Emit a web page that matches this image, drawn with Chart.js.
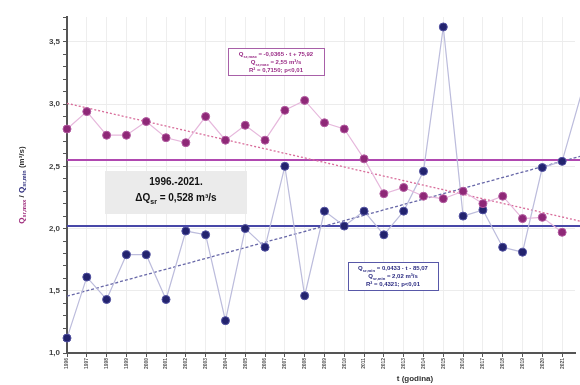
<!DOCTYPE html>
<html>
<head>
<meta charset="utf-8">
<script src="https://cdn.jsdelivr.net/npm/chart.js@4"></script>
<style>
  html, body { margin: 0; padding: 0; background: #fff; overflow: hidden; }
</style>
</head>
<body>
<canvas id="chart1" width="580" height="385"></canvas>
<script>
// godine i protoci (m3/s), ocitano sa slike
const years = [1996, 1997, 1998, 1999, 2000, 2001, 2002, 2003, 2004, 2005, 2006, 2007, 2008,
  2009, 2010, 2011, 2012, 2013, 2014, 2015, 2016, 2017, 2018, 2019, 2020, 2021, 2022];
const qUpper = [2.80, 2.94, 2.75, 2.75, 2.86, 2.73, 2.69, 2.90, 2.71, 2.83, 2.71, 2.95, 3.03,
  2.85, 2.80, 2.56, 2.28, 2.33, 2.26, 2.24, 2.30, 2.20, 2.26, 2.08, 2.09, 1.97, null];
const qLower = [1.12, 1.61, 1.43, 1.79, 1.79, 1.43, 1.98, 1.95, 1.26, 2.00, 1.85, 2.50, 1.46,
  2.14, 2.02, 2.14, 1.95, 2.14, 2.46, 3.62, 2.10, 2.15, 1.85, 1.81, 2.49, 2.54, 3.10];
const yTicks = [1.0, 1.5, 2.0, 2.5, 3.0, 3.5];

const meanUpper = 2.55;
const meanLower = 2.02;
const deltaQ = 0.528;
const trendUpper = { slope: -0.03653, intercept: 75.92, r2: 0.7150 };
const trendLower = { slope: 0.04335, intercept: -85.07, r2: 0.4321 };

const purple = '#8e2877';
const navy = '#23236e';
const FONT = '"Liberation Sans", Arial, sans-serif';

function fmt(v, d) {
  return v.toFixed(d).replace('.', ',');
}

function pts(vals) {
  return years.map((t, i) => ({ x: t, y: vals[i] }));
}

const tStart = years[0];
const tEnd = years[years.length - 1] + 1;

function trendPts(tr) {
  return [tStart, tEnd].map(t => ({ x: t, y: tr.slope * t + tr.intercept }));
}

function flatPts(v) {
  return [{ x: tStart, y: v }, { x: tEnd, y: v }];
}

function setFont(ctx, size, weight) {
  ctx.font = weight + ' ' + size + 'px ' + FONT;
}

function richWidth(ctx, parts, size, weight) {
  let w = 0;
  parts.forEach(p => {
    setFont(ctx, p.sub ? size * 0.7 : size, weight);
    w += ctx.measureText(p.t).width;
  });
  return w;
}

function drawRich(ctx, parts, x, y, size, weight, color) {
  ctx.textAlign = 'left';
  ctx.textBaseline = 'alphabetic';
  parts.forEach(p => {
    setFont(ctx, p.sub ? size * 0.7 : size, weight);
    ctx.fillStyle = p.c || color;
    ctx.fillText(p.t, x, y + (p.sub ? size * 0.25 : 0));
    x += ctx.measureText(p.t).width;
  });
}

function drawRichCentered(ctx, parts, cx, y, size, weight, color) {
  const w = richWidth(ctx, parts, size, weight);
  drawRich(ctx, parts, cx - w / 2, y, size, weight, color);
}

function eqBox(ctx, x, y, w, h, border, color, lines) {
  ctx.fillStyle = '#ffffff';
  ctx.fillRect(x, y, w, h);
  ctx.strokeStyle = border;
  ctx.lineWidth = 1;
  ctx.strokeRect(x + 0.5, y + 0.5, w, h);
  lines.forEach((ln, i) => {
    drawRichCentered(ctx, ln, x + w / 2, y + 8 + i * 8, 6, 'bold', color);
  });
}

const annotate = {
  id: 'annotate',
  afterDraw(chart) {
    const ctx = chart.ctx;
    const area = chart.chartArea;
    ctx.save();

    // naslov y osi
    const yTitle = [
      { t: 'Q', c: '#a0307f' }, { t: 'sr,max', sub: true, c: '#a0307f' },
      { t: ' / ', c: '#333' },
      { t: 'Q', c: '#30307f' }, { t: 'sr,min', sub: true, c: '#30307f' },
      { t: ' (m³/s)', c: '#333' }
    ];
    ctx.save();
    ctx.translate(24, (area.top + area.bottom) / 2);
    ctx.rotate(-Math.PI / 2);
    drawRichCentered(ctx, yTitle, 0, 0, 8, 'bold', '#333');
    ctx.restore();

    // naslov x osi
    setFont(ctx, 8, 'bold');
    ctx.fillStyle = '#333';
    ctx.textAlign = 'center';
    ctx.fillText('t (godina)', 415, 381);

    // srednji okvir
    ctx.fillStyle = '#ebebeb';
    ctx.fillRect(105, 171, 142, 43);
    setFont(ctx, 10, 'bold');
    ctx.fillStyle = '#111';
    ctx.textAlign = 'center';
    ctx.fillText(years[0] + '.-' + years[years.length - 2] + '.', 176, 185);
    drawRichCentered(ctx, [{ t: 'ΔQ' }, { t: 'sr', sub: true }, { t: ' = ' + fmt(deltaQ, 3) + ' m³/s' }],
      176, 201, 10, 'bold', '#111');

    // jednadzbe trenda
    eqBox(ctx, 228, 48, 96, 27, '#a860a8', '#9a2d86', [
      [{ t: 'Q' }, { t: 'sr,max', sub: true }, { t: ' = ' + fmt(trendUpper.slope, 4) + ' · t + ' + fmt(trendUpper.intercept, 2) }],
      [{ t: 'Q' }, { t: 'sr,max', sub: true }, { t: ' = ' + fmt(meanUpper, 2) + ' m³/s' }],
      [{ t: 'R² = ' + fmt(trendUpper.r2, 4) + '; p<0,01' }]
    ]);
    eqBox(ctx, 348, 262, 90, 28, '#5858a8', '#2a2a80', [
      [{ t: 'Q' }, { t: 'sr,min', sub: true }, { t: ' = ' + fmt(trendLower.slope, 4) + ' · t - ' + fmt(-trendLower.intercept, 2) }],
      [{ t: 'Q' }, { t: 'sr,min', sub: true }, { t: ' = ' + fmt(meanLower, 2) + ' m³/s' }],
      [{ t: 'R² = ' + fmt(trendLower.r2, 4) + '; p<0,01' }]
    ]);

    ctx.restore();
  }
};

function isMajor(v) {
  return yTicks.some(m => Math.abs(m - v) < 1e-6);
}

const ctx1 = document.getElementById('chart1').getContext('2d');
const chart1 = new Chart(ctx1, {
  type: 'line',
  data: {
    datasets: [
      {
        data: pts(qUpper),
        borderColor: '#e6b8dc',
        borderWidth: 1.2,
        pointRadius: 4,
        pointBackgroundColor: purple,
        pointBorderColor: '#b25aa0',
        pointBorderWidth: 1,
        clip: false
      },
      {
        data: pts(qLower),
        borderColor: '#bcbcdc',
        borderWidth: 1.2,
        pointRadius: 4,
        pointBackgroundColor: navy,
        pointBorderColor: '#5050a0',
        pointBorderWidth: 1,
        clip: false
      },
      {
        data: trendPts(trendUpper),
        borderColor: '#d86c9a',
        borderWidth: 1.3,
        borderDash: [2, 2],
        pointRadius: 0,
        clip: false
      },
      {
        data: trendPts(trendLower),
        borderColor: '#6868a8',
        borderWidth: 1.3,
        borderDash: [3, 2],
        pointRadius: 0,
        clip: false
      },
      {
        data: flatPts(meanUpper),
        borderColor: '#b048b0',
        borderWidth: 2,
        pointRadius: 0,
        clip: false
      },
      {
        data: flatPts(meanLower),
        borderColor: '#4848a8',
        borderWidth: 2,
        pointRadius: 0,
        clip: false
      }
    ]
  },
  options: {
    responsive: false,
    animation: false,
    layout: { padding: { top: 17, right: 0, bottom: 0, left: 0 } },
    plugins: {
      legend: { display: false },
      tooltip: { enabled: false }
    },
    scales: {
      x: {
        type: 'linear',
        min: 1996,
        max: 1996 + 513 / 20,
        afterFit: s => { s.height = 32; },
        border: { color: '#555', width: 2 },
        grid: { color: '#eeeeee', tickColor: '#555', tickLength: 4 },
        ticks: {
          stepSize: 1,
          includeBounds: false,
          autoSkip: false,
          minRotation: 90,
          maxRotation: 90,
          padding: 1,
          color: '#555',
          font: { size: 5, weight: 'bold', family: FONT },
          callback: v => String(v)
        }
      },
      y: {
        min: 1.0,
        max: 3.7,
        afterFit: s => { s.width = 67; },
        border: { color: '#555', width: 2 },
        grid: {
          color: c => isMajor(c.tick.value) ? '#ececec' : 'rgba(0,0,0,0)',
          tickColor: '#555',
          tickLength: 4
        },
        ticks: {
          stepSize: 0.1,
          autoSkip: false,
          includeBounds: false,
          padding: 3,
          color: '#444',
          font: { size: 8, weight: 'bold', family: FONT },
          callback: v => isMajor(v) ? fmt(v, 1) : ''
        }
      }
    }
  },
  plugins: [annotate]
});
</script>
</body>
</html>
